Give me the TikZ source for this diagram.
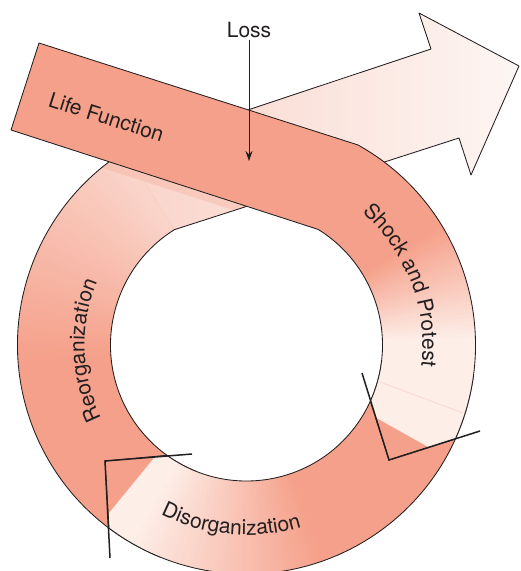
\documentclass[tikz,border=0pt]{standalone}
\usepackage{fontspec}
\setmainfont{TeX Gyre Heros}
\usetikzlibrary{decorations.text,arrows.meta,calc}
\definecolor{salmon}{RGB}{245,160,138}
\definecolor{blush}{RGB}{253,238,232}
\definecolor{pale}{RGB}{253,246,243}
\definecolor{ink}{RGB}{35,31,32}
\newcommand\ringfont{\fontsize{21}{25}\selectfont}

\begin{document}
\begin{tikzpicture}[x=1pt,y=-1pt,
  outline/.style={draw=ink,line width=0.85pt,line join=round},
  cutline/.style={draw=ink,line width=1.5pt,line join=miter},
  seam/.style={draw=salmon!45!blush,line width=0.4pt},
  lbl/.style={font=\ringfont,text=ink},
  ringtext/.style={decorate,decoration={text along path,text align=center,text color=ink}},
]
\useasboundingbox (0,0) rectangle (521,571);
\def\Ri{136}
\def\Ro{229}
\coordinate (C) at (246.5,345);
% junction of the left arc with the outgoing arrow
\path (C) ++(238:\Ro) coordinate (jo);
\path (C) ++(238:\Ri) coordinate (ji);
% arrow outline points
\coordinate (nu) at (431,49);
\coordinate (bu) at (419,13);
\coordinate (tip) at (519,66);
\coordinate (bl) at (471,175);
\coordinate (nl) at (459,138);
% straight band ends
\coordinate (lt) at (39,43);
\coordinate (lb) at (11,130);
% cut marks
\coordinate (sA) at (362,373);
\coordinate (sT) at (389,460);
\coordinate (sB) at (480,431);
\coordinate (dA) at (192,454);
\coordinate (dT) at (105,461);
\coordinate (dB) at (110,558);
% arc end points
\path (C) ++(126.9:\Ro) coordinate (dOut);
\path (C) ++(125.8:\Ri) coordinate (dIn);
\path (C) ++(-60.9:\Ro) coordinate (bOut);
\path (C) ++(-58.2:\Ri) coordinate (bIn);
\path (C) ++(24.4:\Ri) coordinate (sIn);

\def\reorgpath{(C) ++(112:\Ro) arc[start angle=112,end angle=238,radius=\Ro]
  -- (nu) -- (bu) -- (tip) -- (bl) -- (nl) -- (ji)
  arc[start angle=238,end angle=112,radius=\Ri] -- cycle}
\def\disorgpath{(C) ++(8:\Ro) arc[start angle=8,end angle=126.9,radius=\Ro]
  -- (dT) -- (dIn) arc[start angle=125.8,end angle=8,radius=\Ri] -- cycle}
\def\shockpath{(lt) -- (bOut) arc[start angle=-60.9,end angle=24.2,radius=\Ro]
  -- (sT) -- (sIn) arc[start angle=24.4,end angle=-58.2,radius=\Ri] -- (lb) -- cycle}

% ---- Reorganization arc and outgoing arrow ----
\begin{scope}[shift={(C)}]
  \foreach \a in {112,...,238} {
    \pgfmathsetmacro\p{max(40,min(100,100-(\a-175)))}
    \fill[salmon!\p!pale] (\a:\Ri) -- (\a:\Ro)
      arc[start angle=\a,end angle=\a+1.3,radius=\Ro] -- (\a+1.3:\Ri)
      arc[start angle=\a+1.3,end angle=\a,radius=\Ri] -- cycle;
  }
\end{scope}
\begin{scope}
  \clip (jo) -- (nu) -- (bu) -- (tip) -- (bl) -- (nl) -- (ji) -- cycle;
  \foreach \x in {116,120,...,524} {
    \pgfmathsetmacro\p{max(0,40-(\x-125)*40/395)}
    \fill[salmon!\p!pale] (\x,0) rectangle (\x+4.6,260);
  }
\end{scope}
\begin{scope}
  \clip \reorgpath;
  \fill[salmon,opacity=0.28] (lb) -- (330,233) -- (327.6,240.6) -- (8.6,137.6) -- cycle;
\end{scope}
\draw[seam] (ji) -- (jo);
\draw[outline] \reorgpath;

% ---- Disorganization arc ----
\begin{scope}
  \clip \disorgpath;
  \begin{scope}[shift={(C)}]
    \foreach \a in {6,...,128} {
      \pgfmathsetmacro\p{max(0,min(100,(120-\a)*2))}
      \fill[salmon!\p!blush] (\a:\Ri-3) -- (\a:\Ro+3)
        arc[start angle=\a,end angle=\a+1.3,radius=\Ro+3] -- (\a+1.3:\Ri-3)
        arc[start angle=\a+1.3,end angle=\a,radius=\Ri-3] -- cycle;
    }
  \end{scope}
\end{scope}
\draw[outline] \disorgpath;

% ---- Life Function band and Shock and Protest arc ----
\fill[salmon] \shockpath;
\begin{scope}
  \clip \shockpath;
  \begin{scope}[shift={(C)}]
    \foreach \a in {-64,...,28} {
      \pgfmathsetmacro\p{max(0,min(100,(-2-\a)*100/30))}
      \fill[salmon!\p!blush] (\a:\Ri-3) -- (\a:\Ro+3)
        arc[start angle=\a,end angle=\a+1.3,radius=\Ro+3] -- (\a+1.3:\Ri-3)
        arc[start angle=\a+1.3,end angle=\a,radius=\Ri-3] -- cycle;
    }
  \end{scope}
\end{scope}
\draw[seam] (380,382) -- (463,413);
\draw[outline] \shockpath;

% ---- cut marks ----
\draw[cutline] (sA) -- (sT) -- (sB);
\draw[cutline] (dA) -- (dT) -- (dB);

% ---- labels ----
\node[lbl,rotate=-17.6] (life) at (106.5,117) {Life Function};
\path[ringtext,decoration={text={|\ringfont|Shock and Protest}}]
  (C) ++(-62:176) arc[start angle=-62,end angle=20,radius=176];
\path[ringtext,decoration={text={|\ringfont|Reorganization}}]
  (C) ++(138:162) arc[start angle=138,end angle=218,radius=162];
\path[ringtext,decoration={text={|\ringfont|Disorganization}}]
  (C) ++(137:190) arc[start angle=137,end angle=53,radius=190];

\node[lbl,anchor=base,inner sep=2pt] (loss) at (249,37.5) {Loss};
\coordinate (hit) at (249,161);
\draw[ink,line width=0.9pt,-{Stealth[length=10pt,width=7pt]}] (loss.south) -- (hit);
\end{tikzpicture}
\end{document}
